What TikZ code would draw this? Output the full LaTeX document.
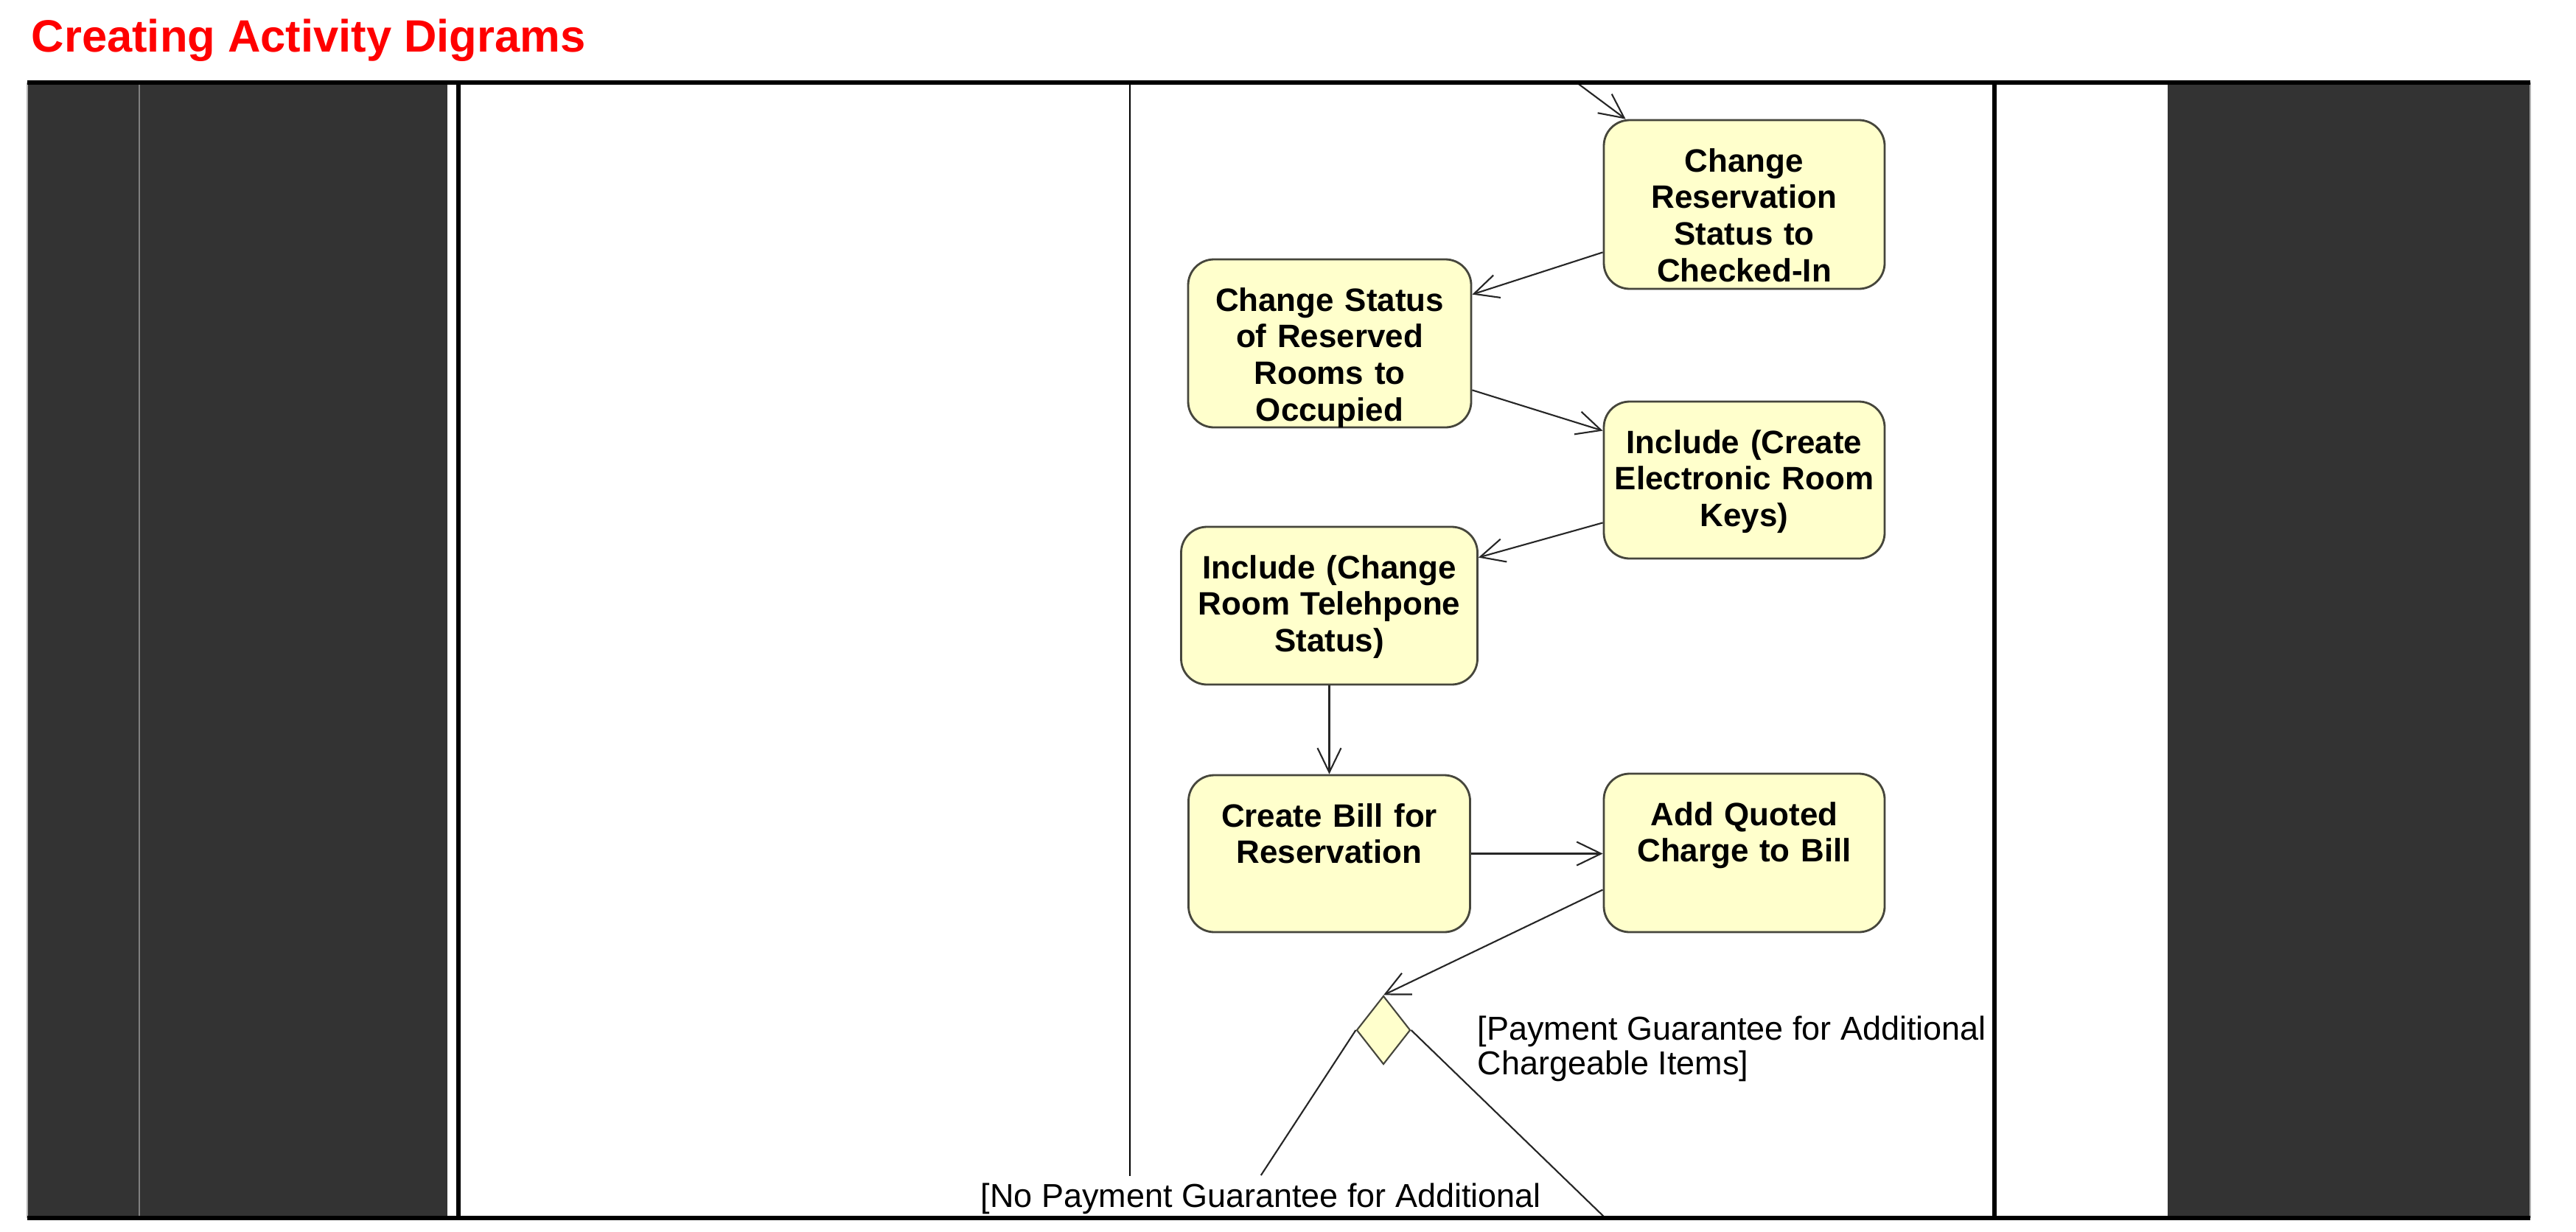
\documentclass[tikz,border=0pt]{standalone}
\usepackage{fontspec}
\setmainfont{Liberation Sans}
\usetikzlibrary{arrows.meta,shapes.geometric}
\definecolor{panel}{HTML}{333333}
\definecolor{actfill}{HTML}{FFFFCC}
\definecolor{actline}{HTML}{46463C}

\begin{document}
\begin{tikzpicture}[
    act/.style={draw=actline, line width=0.8pt, fill=actfill, rounded corners=0.35cm,
      align=center, inner sep=0pt, text height=0.7cm,
      font=\bfseries\fontsize{12.5}{14.2}\selectfont},
    guard/.style={align=left, font=\fontsize{12.8}{13.4}\selectfont},
    flow/.style={draw=black!85, line width=0.6pt, -{Straight Barb[length=0.33cm,width=0.32cm]}},
    lane/.style={line width=1.5pt}
  ]
      \useasboundingbox (0,0) rectangle (34.95,-16.71);
      \fill[white] (0,0) rectangle (34.95,-16.71);

      \fill[panel] (0.37,-1.12) rectangle (6.07,-16.53);
      \fill[panel] (29.41,-1.12) rectangle (34.33,-16.53);
      \draw[gray, line width=0.8pt] (1.89,-1.12) -- (1.89,-16.53);
      \draw[black!30, line width=0.8pt] (0.37,-1.12) -- (0.37,-16.53);
      \draw[black!30, line width=0.8pt] (34.33,-1.12) -- (34.33,-16.53);
      \draw[line width=0.7pt] (15.33,-1.12) -- (15.33,-16.53);

      \node[text=red, anchor=base west, inner sep=0pt, font=\bfseries\fontsize{17.5}{20}\selectfont] (title) at (0.42,-0.70) {Creating Activity Digrams};

      \node[act, text width=3.81cm, text depth=1.59cm] (rescheck) at (23.665,-2.775) {Change\\Reservation\\Status to\\Checked-In};
      \node[act, text width=3.84cm, text depth=1.58cm] (roomsocc) at (18.04,-4.66) {Change Status\\of Reserved\\Rooms to\\Occupied};
      \node[act, text width=3.81cm, text depth=1.43cm] (keys) at (23.665,-6.515) {Include (Create\\Electronic Room\\Keys)};
      \node[act, text width=4.02cm, text depth=1.44cm] (phone) at (18.035,-8.22) {Include (Change\\Room Telehpone\\Status)};
      \node[act, text width=3.82cm, text depth=1.43cm] (bill) at (18.035,-11.585) {Create Bill for\\Reservation};
      \node[act, text width=3.81cm, text depth=1.45cm] (quoted) at (23.665,-11.575) {Add Quoted\\Charge to Bill};
      \node[diamond, draw=actline, fill=actfill, line width=0.6pt, minimum width=0.73cm, minimum height=0.93cm, inner sep=0pt] (decision) at (18.77,-13.98) {};

      \node[guard, anchor=north west, inner sep=0pt] (yeslabel) at (20.04,-13.78) {[Payment Guarantee for Additional\\Chargeable Items]};
      \node[guard, anchor=north west, inner sep=0.1cm, fill=white] (nolabel) at (13.20,-15.95) {[No Payment Guarantee for Additional};

      \coordinate (fromtop) at (21.39,-1.12);
      \coordinate (bottomout) at (21.78,-16.53);

      \draw[flow] (fromtop) -- ([xshift=0.31cm]rescheck.north west);
      \draw[flow] ([yshift=0.51cm]rescheck.south west) -- ([yshift=-0.49cm]roomsocc.north east);
      \draw[flow] ([yshift=0.52cm]roomsocc.south east) -- ([yshift=-0.41cm]keys.north west);
      \draw[flow] ([yshift=0.50cm]keys.south west) -- ([yshift=-0.43cm]phone.north east);
      \draw[flow] (phone.south) -- (bill.north);
      \draw[flow] (bill.east) -- (bill.east -| quoted.west);
      \draw[flow] ([yshift=-0.5cm]quoted.west) -- (decision.north);
      \draw[draw=black!85, line width=0.6pt] (decision.west) -- (nolabel.north);
      \draw[draw=black!85, line width=0.6pt] (decision.east) -- (bottomout);

      \draw[lane] (0.37,-1.12) -- (34.33,-1.12);
      \draw[lane] (0.37,-16.53) -- (34.33,-16.53);
      \draw[lane] (6.22,-1.12) -- (6.22,-16.53);
      \draw[lane] (27.06,-1.12) -- (27.06,-16.53);
    \end{tikzpicture}
\end{document}
